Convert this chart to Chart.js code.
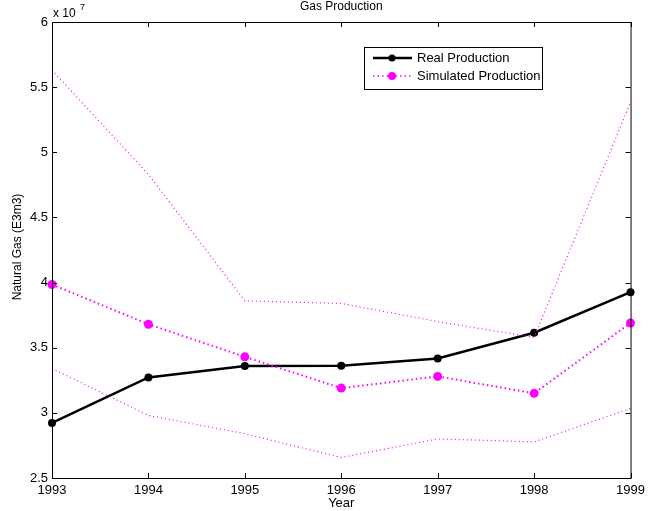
<!DOCTYPE html>
<html>
<head>
<meta charset="utf-8">
<title>Gas Production</title>
<script src="https://cdn.jsdelivr.net/npm/chart.js@4.4.1/dist/chart.umd.min.js"></script>
<style>
  html, body { margin: 0; padding: 0; background: #fff; }
  #wrap { position: relative; width: 650px; height: 511px; }
</style>
</head>
<body>
<div id="wrap"><canvas id="gasChart" width="650" height="511"></canvas></div>
<script>
// data (units: E3m3)
const years = [1993, 1994, 1995, 1996, 1997, 1998, 1999];
const realProduction = [2.923e7, 3.272e7, 3.359e7, 3.362e7, 3.418e7, 3.615e7, 3.926e7];
const simulatedProduction = [3.985e7, 3.68e7, 3.43e7, 3.19e7, 3.28e7, 3.15e7, 3.69e7];
const simulatedUpper = [5.63e7, 4.83e7, 3.86e7, 3.84e7, 3.70e7, 3.58e7, 5.385e7];
const simulatedLower = [3.34e7, 2.98e7, 2.84e7, 2.657e7, 2.80e7, 2.777e7, 3.034e7];
const yTicks = [2.5e7, 3e7, 3.5e7, 4e7, 4.5e7, 5e7, 5.5e7, 6e7];

const FONT = "'Liberation Sans', Arial, Helvetica, sans-serif";
const MAGENTA = "#ff00ff";

const toPoints = (vals) => vals.map((v, i) => ({ x: years[i], y: v }));

// MATLAB-ish box, inward ticks, axis titles, exponent and legend
const matlabAxes = {
    id: "matlabAxes",
    afterDraw(chart) {
        const { ctx, chartArea: a, scales } = chart;
        const len = 5;
        ctx.save();
        ctx.strokeStyle = "#000";
        ctx.lineWidth = 1;
        ctx.strokeRect(a.left + 0.5, a.top + 0.5, a.right - a.left, a.bottom - a.top);

        ctx.beginPath();
        scales.x.ticks.forEach(t => {
            const px = Math.round(scales.x.getPixelForValue(t.value)) + 0.5;
            ctx.moveTo(px, a.bottom); ctx.lineTo(px, a.bottom - len);
            ctx.moveTo(px, a.top); ctx.lineTo(px, a.top + len);
        });
        scales.y.ticks.forEach(t => {
            const py = Math.round(scales.y.getPixelForValue(t.value)) + 0.5;
            ctx.moveTo(a.left, py); ctx.lineTo(a.left + len, py);
            ctx.moveTo(a.right, py); ctx.lineTo(a.right - len, py);
        });
        ctx.stroke();

        ctx.fillStyle = "#000";
        // title
        ctx.font = "12px " + FONT;
        ctx.textAlign = "center";
        ctx.textBaseline = "middle";
        ctx.fillText("Gas Production", (a.left + a.right) / 2, 7);
        // x label
        ctx.font = "13px " + FONT;
        ctx.fillText("Year", (a.left + a.right) / 2, 503);
        // y label
        ctx.save();
        ctx.translate(18, 247);
        ctx.rotate(-Math.PI / 2);
        ctx.font = "12px " + FONT;
        ctx.fillText("Natural Gas (E3m3)", 0, 0);
        ctx.restore();
        // exponent
        ctx.textAlign = "left";
        ctx.textBaseline = "alphabetic";
        ctx.font = "12px " + FONT;
        ctx.fillText("x 10", a.left + 1, 17);
        ctx.font = "9px " + FONT;
        ctx.fillText("7", a.left + 28, 10);

        // legend
        const lx = 364, ly = 47, lw = 178, lh = 42;
        ctx.fillStyle = "#fff";
        ctx.fillRect(lx, ly, lw, lh);
        ctx.strokeRect(lx + 0.5, ly + 0.5, lw, lh);
        const rows = [
            { y: ly + 11, color: "#000", width: 2.5, dash: [], r: 3.5, label: "Real Production" },
            { y: ly + 29, color: MAGENTA, width: 1.5, dash: [1.5, 3], r: 4, label: "Simulated Production" },
        ];
        rows.forEach(row => {
            ctx.beginPath();
            ctx.strokeStyle = row.color;
            ctx.lineWidth = row.width;
            ctx.setLineDash(row.dash);
            ctx.moveTo(lx + 9, row.y);
            ctx.lineTo(lx + 48, row.y);
            ctx.stroke();
            ctx.setLineDash([]);
            ctx.beginPath();
            ctx.fillStyle = row.color;
            ctx.arc(lx + 28, row.y, row.r, 0, Math.PI * 2);
            ctx.fill();
            ctx.fillStyle = "#000";
            ctx.font = "13px " + FONT;
            ctx.textBaseline = "middle";
            ctx.fillText(row.label, lx + 53, row.y + 0.5);
        });
        ctx.restore();
    },
};

const datasets = [
    {
        label: "Upper",
        data: toPoints(simulatedUpper),
        borderColor: MAGENTA,
        borderWidth: 1.2,
        borderDash: [1, 3],
        pointRadius: 0,
    },
    {
        label: "Lower",
        data: toPoints(simulatedLower),
        borderColor: MAGENTA,
        borderWidth: 1.2,
        borderDash: [1, 3],
        pointRadius: 0,
    },
    {
        label: "Simulated Production",
        data: toPoints(simulatedProduction),
        borderColor: MAGENTA,
        borderWidth: 2,
        borderDash: [1.5, 3],
        pointRadius: 4.5,
        pointBackgroundColor: MAGENTA,
        pointBorderWidth: 0,
    },
    {
        label: "Real Production",
        data: toPoints(realProduction),
        borderColor: "#000",
        borderWidth: 2.5,
        pointRadius: 4,
        pointBackgroundColor: "#000",
        pointBorderWidth: 0,
    },
];
datasets.forEach(ds => { ds.tension = 0; ds.clip = false; ds.fill = false; });

new Chart(document.getElementById("gasChart"), {
    type: "line",
    data: { datasets },
    options: {
        responsive: false,
        devicePixelRatio: 1,
        animation: false,
        layout: { padding: { top: 22, right: 19, left: 0, bottom: 0 } },
        plugins: {
            legend: { display: false },
            tooltip: { enabled: false },
            title: { display: false },
        },
        scales: {
            x: {
                type: "linear",
                min: 1993,
                max: 1999,
                afterFit: (s) => { s.height = 33; },
                afterBuildTicks: (s) => { s.ticks = years.map(v => ({ value: v })); },
                grid: { display: false, drawTicks: false },
                border: { display: false },
                ticks: {
                    color: "#000",
                    padding: 5,
                    font: { family: FONT, size: 13 },
                    maxRotation: 0,
                    callback: (v) => String(v),
                },
            },
            y: {
                min: 2.5e7,
                max: 6e7,
                afterFit: (s) => { s.width = 52; },
                afterBuildTicks: (s) => { s.ticks = yTicks.map(v => ({ value: v })); },
                grid: { display: false, drawTicks: false },
                border: { display: false },
                ticks: {
                    color: "#000",
                    padding: 4,
                    font: { family: FONT, size: 13 },
                    callback: (v) => String(+(v / 1e7).toFixed(1)),
                },
            },
        },
    },
    plugins: [matlabAxes],
});
</script>
</body>
</html>
